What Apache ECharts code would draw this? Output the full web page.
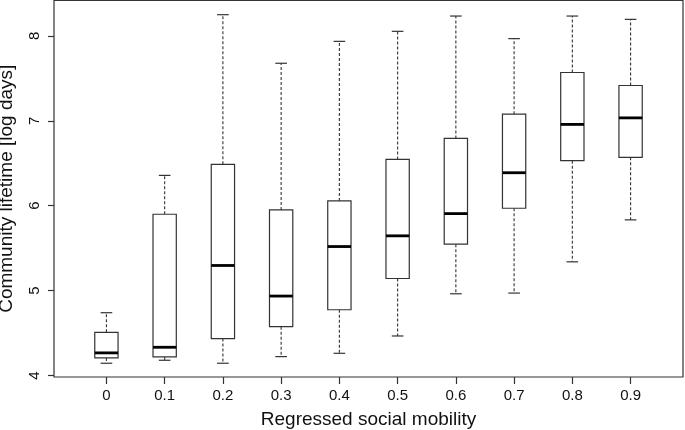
<!DOCTYPE html>
<html>
<head>
<meta charset="utf-8">
<script src="https://cdn.jsdelivr.net/npm/echarts@6/dist/echarts.min.js"></script>
<style>
html,body{margin:0;padding:0;background:#fff;}
#chart{width:685px;height:430px;}
</style>
</head>
<body>
<div id="chart"></div>
<script>
// Categories (regressed social mobility)
const categories = ['0', '0.1', '0.2', '0.3', '0.4', '0.5', '0.6', '0.7', '0.8', '0.9'];
// Box statistics per category (log days)
const whiskerLow  = [4.145, 4.180, 4.145, 4.223, 4.262, 4.466, 4.963, 4.971, 5.339, 5.833];
const q1          = [4.208, 4.219, 4.435, 4.576, 4.775, 5.143, 5.547, 5.970, 6.530, 6.569];
const median      = [4.267, 4.333, 5.296, 4.936, 5.519, 5.645, 5.907, 6.388, 6.957, 7.034];
const q3          = [4.509, 5.899, 6.487, 5.950, 6.056, 6.545, 6.792, 7.078, 7.568, 7.415];
const whiskerHigh = [4.740, 6.357, 8.249, 7.677, 7.935, 8.053, 8.233, 7.967, 8.233, 8.194];
// Tick labels
const yTicks = [4, 5, 6, 7, 8];
const xTickIdx = categories.map((c, i) => i);

const boxData = categories.map((c, i) => [i, whiskerLow[i], q1[i], median[i], q3[i], whiskerHigh[i]]);

const lineColor = '#333333';
const font = 'Liberation Sans, Arial, Helvetica, sans-serif';

function renderItem(params, api) {
  const x = api.value(0);
  const lo = api.coord([x, api.value(1)]);
  const b1 = api.coord([x, api.value(2)]);
  const md = api.coord([x, api.value(3)]);
  const b3 = api.coord([x, api.value(4)]);
  const hi = api.coord([x, api.value(5)]);
  const half = api.size([0.2, 0])[0];
  const capHalf = half / 2;
  const cx = lo[0];
  const dashed = {stroke: lineColor, lineWidth: 1.1, lineDash: [3, 2], fill: null};
  const solid = {stroke: lineColor, lineWidth: 1.2, fill: null};
  return {
    type: 'group',
    children: [
      {type: 'line', shape: {x1: cx, y1: b3[1], x2: cx, y2: hi[1]}, style: dashed},
      {type: 'line', shape: {x1: cx, y1: b1[1], x2: cx, y2: lo[1]}, style: dashed},
      {type: 'line', shape: {x1: cx - capHalf, y1: hi[1], x2: cx + capHalf, y2: hi[1]}, style: solid},
      {type: 'line', shape: {x1: cx - capHalf, y1: lo[1], x2: cx + capHalf, y2: lo[1]}, style: solid},
      {type: 'rect', shape: {x: cx - half, y: b3[1], width: 2 * half, height: b1[1] - b3[1]},
        style: {stroke: lineColor, lineWidth: 1.2, fill: '#ffffff'}},
      {type: 'line', shape: {x1: cx - half, y1: md[1], x2: cx + half, y2: md[1]},
        style: {stroke: '#000000', lineWidth: 2.8}}
    ]
  };
}

const chart = echarts.init(document.getElementById('chart'), null, {renderer: 'canvas'});
chart.setOption({
  animation: false,
  backgroundColor: '#ffffff',
  grid: {
    left: 54, right: 2, top: 0.5, bottom: 53,
    containLabel: false,
    outerBoundsMode: 'none',
    show: true, borderColor: lineColor, borderWidth: 1.2, backgroundColor: 'transparent'
  },
  xAxis: {
    type: 'value',
    min: -0.9, max: 9.9,
    name: 'Regressed social mobility',
    nameLocation: 'middle',
    nameGap: 33,
    nameTextStyle: {fontFamily: font, fontSize: 19, color: '#111'},
    axisLine: {show: false, onZero: false},
    splitLine: {show: false},
    axisTick: {show: true, customValues: xTickIdx, length: 7, lineStyle: {color: lineColor, width: 1.2}},
    axisLabel: {customValues: xTickIdx, formatter: v => categories[Math.round(v)],
      fontFamily: font, fontSize: 15, color: '#111', margin: 11}
  },
  yAxis: {
    type: 'value',
    min: 3.983, max: 8.416,
    name: 'Community lifetime [log days]',
    nameLocation: 'middle',
    nameGap: 38,
    nameRotate: 90,
    nameTextStyle: {fontFamily: font, fontSize: 19, color: '#111'},
    axisLine: {show: false, onZero: false},
    splitLine: {show: false},
    axisTick: {show: true, customValues: yTicks, length: 6, lineStyle: {color: lineColor, width: 1.2}},
    axisLabel: {customValues: yTicks, rotate: 90, fontFamily: font, fontSize: 15, color: '#111', margin: 12}
  },
  series: [{
    type: 'custom',
    renderItem: renderItem,
    data: boxData,
    encode: {x: 0, y: [1, 2, 3, 4, 5]},
    clip: false
  }]
});
</script>
</body>
</html>
